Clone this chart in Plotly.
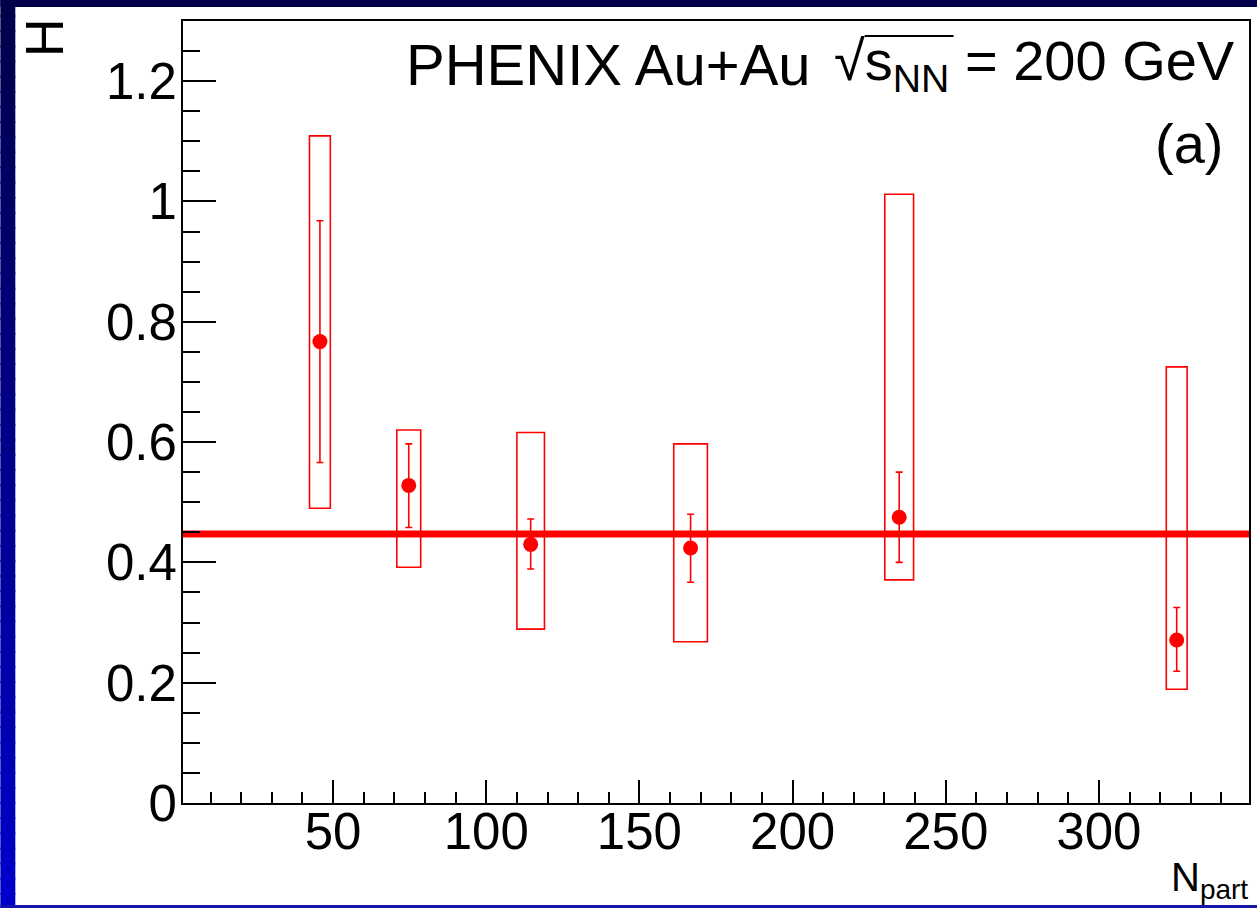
import plotly.graph_objects as go

# Measured H versus number of participants (PHENIX Au+Au, 200 GeV)
npart = [45.7, 74.7, 114.5, 166.7, 234.8, 325.4]
npart_sys = [3.4, 3.9, 4.5, 5.5, 4.7, 3.4]
h_val = [0.767, 0.528, 0.430, 0.424, 0.475, 0.271]
stat_up = [0.201, 0.069, 0.042, 0.056, 0.075, 0.054]
stat_dn = [0.201, 0.070, 0.041, 0.057, 0.075, 0.052]
sys_hi = [1.109, 0.620, 0.616, 0.597, 1.012, 0.725]
sys_lo = [0.490, 0.392, 0.289, 0.268, 0.371, 0.189]
h_mean = 0.447

x_range = [1, 349]
y_range = [0, 1.3]

W, H = 1259, 908
ML, MR, MT, MB = 183, 8, 21, 105
PW, PH = W - ML - MR, H - MT - MB


def xp(px):
    return (px - ML) / PW


def yp(py):
    return (H - MB - py) / PH


RED = "#ff0000"
FONT = "Liberation Sans, Arial, Helvetica, sans-serif"

fig = go.Figure()

# constant fit line
fig.add_trace(go.Scatter(
    x=x_range, y=[h_mean, h_mean], mode="lines",
    line=dict(color=RED, width=7), hoverinfo="skip", showlegend=False,
))

# points with statistical errors
fig.add_trace(go.Scatter(
    x=npart, y=h_val, mode="markers",
    marker=dict(color=RED, size=15, symbol="circle"),
    error_y=dict(type="data", symmetric=False, array=stat_up, arrayminus=stat_dn,
                 color=RED, thickness=1.6, width=3.5),
    showlegend=False,
))

shapes = []

# slide background: vertical navy-to-blue gradient in the border bands
def band_color(py):
    t = max(0.0, min(1.0, py / H))
    b = int(75 + t * 130)
    return f"rgb(0,0,{b})"

steps = 60
for i in range(steps):
    y0 = H * i / steps
    y1 = H * (i + 1) / steps + 2
    shapes.append(dict(type="rect", xref="paper", yref="paper",
                       x0=xp(0), x1=xp(15), y0=yp(y1), y1=yp(y0),
                       fillcolor=band_color(y0), line=dict(width=0),
                       layer="below"))
shapes.append(dict(type="rect", xref="paper", yref="paper",
                   x0=xp(0), x1=xp(W), y0=yp(7), y1=yp(-2),
                   fillcolor=band_color(3), line=dict(width=0), layer="below"))
shapes.append(dict(type="rect", xref="paper", yref="paper",
                   x0=xp(0), x1=xp(W), y0=yp(H + 2), y1=yp(905),
                   fillcolor="rgb(20,20,170)", line=dict(width=0), layer="below"))

# overline of the square-root sign
shapes.append(dict(type="line", xref="paper", yref="paper",
                   x0=xp(866), x1=xp(955), y0=yp(36), y1=yp(36),
                   line=dict(color="black", width=2)))

# systematic uncertainty boxes
for x, dx, lo, hi in zip(npart, npart_sys, sys_lo, sys_hi):
    shapes.append(dict(type="rect", xref="x", yref="y",
                       x0=x - dx, x1=x + dx, y0=lo, y1=hi,
                       line=dict(color=RED, width=1.6), fillcolor="rgba(0,0,0,0)",
                       layer="above"))

annotations = [
    dict(text="PHENIX Au+Au",
         xref="paper", yref="paper", x=xp(814), y=yp(64),
         xanchor="right", yanchor="middle", showarrow=False,
         font=dict(family=FONT, size=58, color="black")),
    dict(text="√s<sub>NN</sub> = 200 GeV",
         xref="paper", yref="paper", x=xp(1239), y=yp(64),
         xanchor="right", yanchor="middle", showarrow=False,
         font=dict(family=FONT, size=56, color="black")),
    dict(text="(a)", xref="paper", yref="paper", x=xp(1227), y=yp(143),
         xanchor="right", yanchor="middle", showarrow=False,
         font=dict(family=FONT, size=56, color="black")),
    dict(text="H", xref="paper", yref="paper", x=xp(44), y=yp(38),
         xanchor="center", yanchor="middle", showarrow=False, textangle=-90,
         font=dict(family=FONT, size=54, color="black")),
    dict(text="N<sub>part</sub>", xref="paper", yref="paper", x=xp(1252), y=yp(880),
         xanchor="right", yanchor="middle", showarrow=False,
         font=dict(family=FONT, size=40, color="black")),
]

axis_common = dict(
    showline=True, linecolor="black", linewidth=2, mirror=True,
    ticks="inside", tickcolor="black", tickwidth=2,
    showgrid=False, zeroline=False,
    tickfont=dict(family=FONT, size=51, color="black"),
)

fig.update_layout(
    width=W, height=H,
    margin=dict(l=ML, r=MR, t=MT, b=MB),
    paper_bgcolor="white", plot_bgcolor="white",
    shapes=shapes, annotations=annotations,
    xaxis=dict(range=x_range, tick0=0, dtick=50, ticklen=23,
               ticklabelstandoff=-17,
               minor=dict(dtick=10, tick0=0, ticklen=11, ticks="inside",
                          tickcolor="black", tickwidth=2),
               **axis_common),
    yaxis=dict(range=y_range, tick0=0, dtick=0.2, ticklen=33,
               ticklabelstandoff=-6,
               minor=dict(dtick=0.05, tick0=0, ticklen=17, ticks="inside",
                          tickcolor="black", tickwidth=2),
               **axis_common),
    showlegend=False,
)

fig.write_html("out.html")
